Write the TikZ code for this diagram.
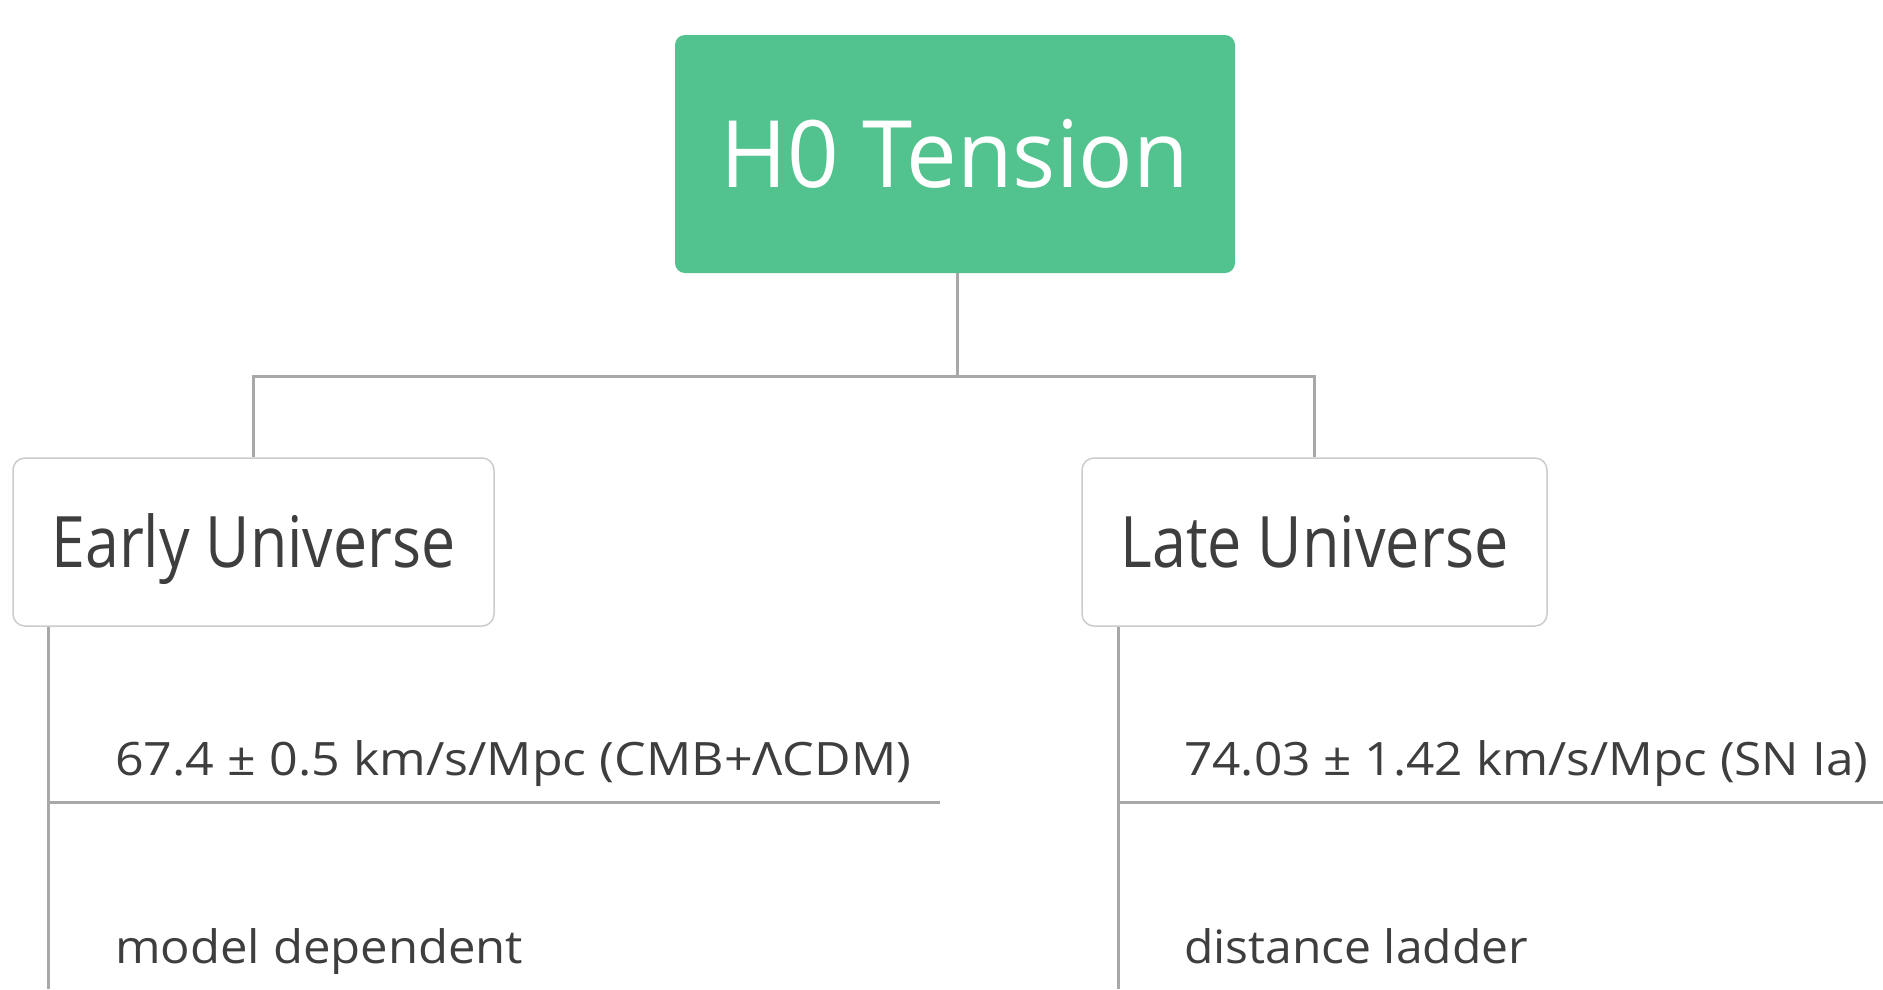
\documentclass[tikz,border=0pt]{standalone}
\usepackage{fontspec}
\setmainfont{Open Sans}
\usepackage{graphicx}
\definecolor{rootgreen}{RGB}{82,195,142}
\definecolor{linegray}{RGB}{168,168,168}
\definecolor{boxgray}{RGB}{204,204,204}
\definecolor{txtgray}{RGB}{62,62,62}
\newcommand{\fitw}[2]{\resizebox{#1}{\height}{#2}}
\begin{document}
\begin{tikzpicture}[x=1pt,y=-1pt,
  rootbox/.style={fill=rootgreen, draw=none, rounded corners=10pt, minimum width=560pt, minimum height=238pt,
    inner sep=0pt, text=white, text height=67pt, text depth=0pt, font=\fontsize{93}{100}\selectfont},
  topicbox/.style={fill=white, draw=boxgray, line width=1.5pt, rounded corners=12pt, minimum height=168pt,
    inner sep=0pt, text=txtgray, text height=51pt, text depth=0pt, font=\fontsize{71}{80}\selectfont},
  subtext/.style={anchor=base west, inner sep=0pt, text=txtgray, font=\fontsize{46}{52}\selectfont},
  conn/.style={draw=linegray, line width=3pt}]
\useasboundingbox (0,0) rectangle (1883,989);
\fill[white] (0,0) rectangle (1883,989);

\node[rootbox] (root) at (955,154) {\fitw{468pt}{H0 Tension}};
\node[topicbox, minimum width=481pt] (early) at (253.5,542) {\fitw{404pt}{Early Universe}};
\node[topicbox, minimum width=465pt] (late) at (1314.5,542) {\fitw{388pt}{Late Universe}};

\coordinate (junction) at (957,376);
\draw[conn] (root.south -| junction) -- (junction) -| (early.north);
\draw[conn] (junction) -| (late.north);

% early branch
\coordinate (ebot) at (48,989);
\coordinate (eline) at (940,802);
\draw[conn] (early.south -| ebot) -- (ebot);
\draw[conn] (eline -| ebot) -- (eline);
\node[subtext] (e1) at (115,775) {\fitw{796pt}{67.4 ± 0.5 km/s/Mpc (CMB+ΛCDM)}};
\node[subtext] (e2) at (115,963) {\fitw{408pt}{model dependent}};

% late branch
\coordinate (lbot) at (1118,989);
\coordinate (lline) at (1883,802);
\draw[conn] (late.south -| lbot) -- (lbot);
\draw[conn] (lline -| lbot) -- (lline);
\node[subtext] (l1) at (1184,775) {\fitw{684pt}{74.03 ± 1.42 km/s/Mpc (SN Ia)}};
\node[subtext] (l2) at (1184,963) {\fitw{344pt}{distance ladder}};
\end{tikzpicture}
\end{document}
